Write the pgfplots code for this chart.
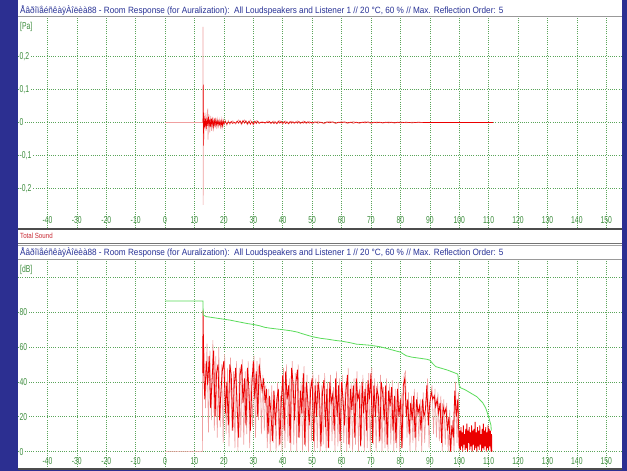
\documentclass[border=0pt]{standalone}
\usepackage{fontspec}
\setmainfont{Liberation Sans}
\newfontfamily\tickfont{Liberation Sans}[FakeStretch=0.68]
\newfontfamily\titlefont{Liberation Sans}[FakeStretch=0.9]
\newfontfamily\tsfont{Liberation Sans}[FakeStretch=0.82]
\usepackage{pgfplots}
\pgfplotsset{compat=1.18}
\definecolor{bgblue}{RGB}{44,47,145}
\definecolor{titleblue}{RGB}{40,50,150}
\definecolor{tickgreen}{RGB}{60,140,60}
\definecolor{gridgreen}{RGB}{90,165,90}
\definecolor{sigred}{RGB}{235,0,0}
\definecolor{sigpink}{RGB}{240,160,160}
\definecolor{decaygreen}{RGB}{90,220,90}
\definecolor{tsred}{RGB}{200,40,50}
\pgfplotsset{panel/.style={
  scale only axis, width=603pt, xmin=-50, xmax=155,
  axis line style={draw=none}, tick style={draw=none},
  xtick={-40,-30,...,150},
  grid=major, major grid style={gridgreen, line width=0.6pt, dash pattern=on 1pt off 1.2pt},
  ticklabel style={font=\tickfont\fontsize{10}{10}\selectfont, text=tickgreen},
  xticklabel style={anchor=base, yshift=4.5pt},
  yticklabel style={anchor=west, xshift=1pt, fill=white, inner sep=0.5pt},
  /pgf/number format/assume math mode=true,
}}
\begin{document}
\begin{tikzpicture}
\useasboundingbox (0,0) rectangle (627pt,-471pt);
\fill[bgblue] (0,0) rectangle (627pt,-471pt);
\fill[white] (18pt,0) rectangle (622pt,-469pt);

% ---------- top: impulse response ----------
\begin{axis}[panel, at={(18pt,-228pt)}, anchor=south west, height=211pt,
  ymin=-0.32, ymax=0.32, ytick={-0.2,-0.1,0,0.1,0.2},
  yticklabels={{-0,2},{-0,1},0,{0,1},{0,2}}]
\addplot[sigpink, line width=0.6pt] coordinates {
(0,0) (12.85,0) (12.9,0.29) (12.95,-0.25) (13.05,0.01) (13.3,-0.02) (13.6,0.03) (13.9,-0.025) (14.2,0.02) (14.5,0.042) (14.6,-0.052) (14.9,0.025) (15.2,-0.03) (15.5,0.02) (15.8,-0.025) (16.1,0.015) (16.4,-0.027) (16.7,0.012) (17.0,-0.015) (17.3,0.014) (17.6,-0.02) (17.9,0.01) (18.2,-0.012) (18.5,0.008) (18.8,-0.014) (19.1,0.01) (19.4,-0.016) (19.7,0.008) (20,-0.01) (20.5,0.007) (21,-0.009) (21.5,0.006) (22,-0.006) (23,0.005) (24,-0.005) (25,0.008) (26,-0.007) (27,0.008) (28,-0.007) (29,0.008) (30,-0.008) (31,0.006) (32,-0.004) (33,0.003) (34,-0.003) (35,0.005) (36,-0.004) (37,0.005) (38,-0.005) (39,0.006) (40,-0.005) (41,0.005) (42,-0.005) (43,0.004) (44,-0.004) (45,0.005) (46,-0.004) (47,0.005) (48,-0.004) (49,0.004) (50,-0.004) (52,0.004) (54,-0.004) (56,0.004) (58,-0.003) (60,0.003) (62,-0.003) (64,0.003) (66,-0.003) (68,0.003) (70,-0.003) (72,0.002) (74,-0.002) (76,0.002) (78,-0.002) (80,0.002) (82,-0.001) (84,0.001) (86,0) (111.5,0)};
\addplot[sigred, line width=0.6pt] coordinates {
(12.9,0) (13.0,0.115) (13.1,-0.07) (13.25,0.02) (13.5,-0.015) (13.75,0.012) (14.0,-0.02) (14.25,0.015) (14.5,-0.01) (14.75,0.018) (15.0,-0.012) (15.25,0.01) (15.5,-0.014) (15.75,0.012) (16.0,-0.008) (16.25,0.01) (16.5,-0.012) (16.75,0.007) (17.0,-0.01) (17.25,0.008) (17.5,-0.006) (17.75,0.005) (18,-0.008) (18.25,0.004) (18.5,-0.006) (18.75,0.003) (19,-0.012) (19.25,0.004) (19.5,-0.01) (19.75,0.006) (20,-0.004) (20.5,0.003) (21,-0.005) (21.5,0.002) (22,-0.002) (22.5,0.003) (23,-0.003) (23.5,0.001) (24,-0.002) (24.5,0.004) (25,-0.002) (25.5,0.005) (26,-0.003) (26.5,0.006) (27,-0.002) (27.5,0.005) (28,-0.004) (28.5,0.004) (29,-0.005) (29.5,0.003) (30,-0.005) (30.5,0.004) (31,-0.003) (31.5,0.004) (32,-0.002) (32.5,0.001) (33,-0.001) (33.5,0.001) (34,-0.001) (34.5,0.002) (35,-0.001) (35.5,0.003) (36,-0.002) (36.5,0.002) (37,-0.003) (37.5,0.002) (38,-0.003) (38.5,0.004) (39,-0.002) (39.5,0.003) (40,-0.002) (40.5,0.003) (41,-0.003) (41.5,0.002) (42,-0.003) (42.5,0.003) (43,-0.002) (43.5,0.002) (44,-0.001) (44.5,0.002) (45,-0.002) (45.5,0.003) (46,-0.002) (46.5,0.001) (47,-0.002) (47.5,0.003) (48,-0.001) (48.5,0.002) (49,-0.002) (49.5,0.001) (50,-0.001) (51,0.002) (52,-0.002) (53,0.001) (54,-0.002) (55,0.002) (56,-0.001) (57,0.002) (58,-0.002) (59,0.001) (60,-0.001) (61,0.002) (62,-0.001) (63,0.001) (64,-0.002) (65,0.001) (66,-0.001) (67,0.001) (68,-0.001) (69,0.002) (70,-0.001) (71,0.001) (72,-0.001) (73,0.001) (74,-0.001) (75,0.001) (76,-0.001) (77,0.001) (78,-0.001) (79,0.001) (80,-0.001) (82,0.001) (84,-0.001) (86,0.001) (88,0) (111.5,0)};
\end{axis}

% ---------- bottom: level in dB ----------
\begin{axis}[panel, at={(18pt,-469pt)}, anchor=south west, height=209pt,
  ymin=-10, ymax=110, ytick={0,20,40,60,80,100},
  yticklabels={0,20,40,60,80,{}}]
\addplot[sigpink, line width=0.6pt] coordinates {
(0,0) (12.7,0) (12.75,50) (13.25,60) (13.75,25) (14.25,62) (14.75,11) (15.25,58) (15.75,18) (16.25,64) (16.75,12) (17.25,55) (17.75,8) (18.25,60) (18.75,14) (19.25,50) (19.75,5) (20.25,56) (20.75,10) (21.25,48) (21.75,3) (22.25,54) (22.75,12) (23.25,46) (23.75,2) (24.25,52) (24.75,0) (25.25,48) (25.75,8) (26.25,53) (26.75,4) (27.25,46) (27.75,10) (28.25,52) (28.75,2) (29.25,44) (29.75,14) (30.25,55) (30.75,8) (31.25,52) (31.75,18) (32.25,54) (32.75,10) (33.25,44) (33.75,12) (34.25,38) (34.75,2) (35.25,36) (35.75,0) (36.25,38) (36.75,5) (37.25,34) (37.75,0) (38.25,40) (38.75,3) (39.25,32) (39.75,0) (40.25,48) (40.75,2) (41.25,50) (41.75,6) (42.25,42) (42.75,0) (43.25,52) (43.75,4) (44.25,45) (44.75,0) (45.25,50) (45.75,8) (46.25,40) (46.75,0) (47.25,49) (47.75,3) (48.25,44) (48.75,0) (49.25,40) (49.75,6) (50.25,46) (50.75,0) (51.25,42) (51.75,2) (52.25,44) (52.75,0) (53.25,38) (53.75,4) (54.25,45) (54.75,0) (55.25,40) (55.75,2) (56.25,44) (56.75,6) (57.25,37) (57.75,0) (58.25,46) (58.75,3) (59.25,42) (59.75,0) (60.25,44) (60.75,5) (61.25,39) (61.75,0) (62.25,48) (62.75,2) (63.25,40) (63.75,0) (64.25,42) (64.75,4) (65.25,46) (65.75,0) (66.25,38) (66.75,6) (67.25,44) (67.75,0) (68.25,40) (68.75,2) (69.25,45) (69.75,0) (70.25,48) (70.75,4) (71.25,42) (71.75,0) (72.25,40) (72.75,5) (73.25,44) (73.75,0) (74.25,37) (74.75,2) (75.25,42) (75.75,0) (76.25,39) (76.75,4) (77.25,41) (77.75,0) (78.25,36) (78.75,2) (79.25,40) (79.75,0) (80.25,34) (80.75,3) (81.25,44) (81.75,46) (82.25,8) (82.75,34) (83.25,0) (83.75,32) (84.25,5) (84.75,36) (85.25,0) (85.75,34) (86.25,6) (86.75,30) (87.25,0) (87.75,34) (88.25,5) (88.75,28) (89.25,42) (89.75,2) (90.25,32) (90.75,38) (91.25,10) (91.75,36) (92.25,8) (92.75,34) (93.25,6) (93.75,32) (94.25,0) (94.75,30) (95.25,4) (95.75,28) (96.25,0) (96.75,24) (97.25,0) (97.75,18) (98.25,0) (98.75,40) (99.25,5) (99.75,34) (100,0)};
\addplot[sigred, line width=0.8pt] coordinates {
(12.8,45) (12.9,81) (13.0,70) (13.1,48) (13.5,30) (14.0,52) (14.5,38) (15.0,55) (15.5,25) (16.0,42) (16.5,58) (17.0,20) (17.5,45) (18.0,50) (18.5,18) (19.0,35) (19.5,47) (20.0,52) (20.5,22) (21.0,40) (21.5,15) (22.0,50) (22.5,44) (23.0,12) (23.5,38) (24.0,48) (24.5,25) (25.0,8) (25.5,44) (26.0,50) (26.5,28) (27.0,42) (27.5,15) (28.0,48) (28.5,36) (29.0,12) (29.5,38) (30.0,52) (30.5,30) (31.0,46) (31.5,20) (32.0,50) (32.5,42) (33.0,35) (33.5,42) (34.0,28) (34.5,36) (35.0,10) (35.5,32) (36.0,22) (36.5,6) (37.0,35) (37.5,15) (38.0,30) (38.5,36) (39.0,4) (39.5,28) (40.0,44) (40.5,12) (41.0,46) (41.5,30) (42.0,38) (42.5,5) (43.0,48) (43.5,40) (44.0,18) (44.5,40) (45.0,47) (45.5,8) (46.0,35) (46.5,22) (47.0,45) (47.5,4) (48.0,40) (48.5,30) (49.0,15) (49.5,36) (50.0,42) (50.5,6) (51.0,38) (51.5,20) (52.0,40) (52.5,33) (53.0,3) (53.5,34) (54.0,41) (54.5,14) (55.0,36) (55.5,2) (56.0,40) (56.5,28) (57.0,33) (57.5,12) (58.0,42) (58.5,20) (59.0,38) (59.5,6) (60.0,40) (60.5,30) (61.0,15) (61.5,35) (62.0,44) (62.5,4) (63.0,36) (63.5,24) (64.0,38) (64.5,8) (65.0,42) (65.5,30) (66.0,34) (66.5,3) (67.0,40) (67.5,22) (68.0,36) (68.5,12) (69.0,41) (69.5,30) (70.0,45) (70.5,5) (71.0,38) (71.5,20) (72.0,36) (72.5,32) (73.0,6) (73.5,40) (74.0,33) (74.5,18) (75.0,38) (75.5,4) (76.0,35) (76.5,26) (77.0,37) (77.5,12) (78.0,32) (78.5,5) (79.0,36) (79.5,20) (80.0,30) (80.5,2) (81.0,38) (81.5,42) (82.0,20) (82.5,30) (83.0,10) (83.5,28) (84.0,18) (84.5,32) (85.0,8) (85.5,30) (86.0,22) (86.5,26) (87.0,12) (87.5,30) (88.0,20) (88.5,24) (89.0,38) (89.5,15) (90.0,28) (90.5,34) (91.0,30) (91.5,32) (92.0,26) (92.5,30) (93.0,22) (93.5,28) (94.0,5) (94.5,26) (95.0,22) (95.5,25) (96.0,12) (96.5,20) (97.0,0) (97.5,15) (98.0,8) (98.5,35) (99.0,20) (99.5,30) (100.0,2)
(100.2,12) (100.4,1) (100.6,14) (100.8,3) (101.0,11) (101.2,0) (101.4,15) (101.6,4) (101.8,10) (102.0,1) (102.2,13) (102.4,2) (102.6,16) (102.8,0) (103.0,12) (103.2,5) (103.4,14) (103.6,1) (103.8,11) (104.0,3) (104.2,15) (104.4,0) (104.6,12) (104.8,4) (105.0,13) (105.2,1) (105.4,17) (105.6,2) (105.8,11) (106.0,0) (106.2,14) (106.4,3) (106.6,12) (106.8,1) (107.0,15) (107.2,4) (107.4,10) (107.6,0) (107.8,13) (108.0,2) (108.2,16) (108.4,1) (108.6,12) (108.8,3) (109.0,14) (109.2,0) (109.4,11) (109.6,2) (109.8,15) (110.0,1) (110.2,13) (110.4,3) (110.6,12) (110.8,0) (111.0,10) (111.1,0)};
\addplot[decaygreen, line width=0.8pt] coordinates {
(0,86.5) (12.9,86.5) (12.95,78.5) (14,77.5) (16,77) (18,76.5) (20,76) (22,75.5) (25,74.5) (28,73.5) (30,73) (32,72.3) (34,71.3) (36,70.8) (40,70) (43,69.3) (45,68.6) (47,67.5) (50,66) (53,65) (55,64.6) (58,63.8) (60,63.4) (63,62.5) (65,61.7) (68,61.3) (70,61) (73,60.2) (75,59.4) (78,58) (80,57.1) (82,55) (84,54.2) (87,53.5) (89,53) (90,52.5) (91,50.5) (92,48.8) (94,47.8) (96,46.8) (98,45.5) (99.5,44.5) (100,38) (100.5,36.6) (102,35.5) (104,33.5) (106,31.5) (108,28) (109,25) (110,20) (110.8,15) (110.9,12)};
\end{axis}

% ---------- frame lines and texts ----------
\draw[black!40, line width=0.8pt] (18pt,-16.5pt) -- (622pt,-16.5pt);
\draw[black!70, line width=1.2pt] (18pt,-229pt) -- (622pt,-229pt);
\draw[black!55, line width=0.8pt] (18pt,-243pt) -- (622pt,-243pt);
\draw[black!35, line width=0.6pt] (18pt,-245.5pt) -- (622pt,-245.5pt);
\draw[black!40, line width=0.8pt] (18pt,-259pt) -- (622pt,-259pt);
\draw[black!70, line width=1.2pt] (18pt,-469pt) -- (622pt,-469pt);
\node[anchor=base west, inner sep=0, text=titleblue, font=\titlefont\fontsize{9.1}{9.1}\selectfont] at (20pt,-13pt)
  {ÅâðîïåéñêàÿÀîëèà88 - Room Response (for Auralization):\ \ All Loudspeakers and Listener 1 // 20 °C, 60 \% // Max. Reflection Order: 5};
\node[anchor=base west, inner sep=0, text=titleblue, font=\titlefont\fontsize{9.1}{9.1}\selectfont] at (20pt,-255.5pt)
  {ÅâðîïåéñêàÿÀîëèà88 - Room Response (for Auralization):\ \ All Loudspeakers and Listener 1 // 20 °C, 60 \% // Max. Reflection Order: 5};
\node[anchor=base west, inner sep=0, text=tsred, font=\tsfont\fontsize{7.5}{7.5}\selectfont] at (20pt,-238.5pt) {Total Sound};
\node[anchor=base west, inner sep=0, text=tickgreen, font=\tickfont\fontsize{10}{10}\selectfont] at (20pt,-30pt) {[Pa]};
\node[anchor=base west, inner sep=0, text=tickgreen, font=\tickfont\fontsize{10}{10}\selectfont] at (20pt,-272pt) {[dB]};
\end{tikzpicture}
\end{document}
